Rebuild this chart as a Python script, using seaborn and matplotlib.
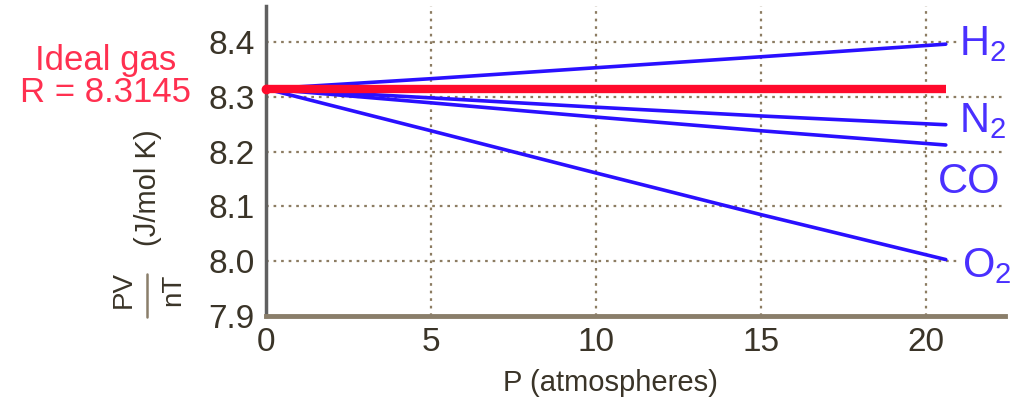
import pandas as pd
import numpy as np
import matplotlib.pyplot as plt
import seaborn as sns
from matplotlib.lines import Line2D

# Values
pressure = [0, 5, 10, 15, 20.6]
h2 = [8.3145, 8.333, 8.353, 8.373, 8.396]
n2 = [8.3145, 8.298, 8.281, 8.265, 8.249]
co = [8.3145, 8.289, 8.263, 8.238, 8.212]
o2 = [8.3145, 8.238, 8.161, 8.085, 8.003]
ideal = [8.3145, 8.3145, 8.3145, 8.3145, 8.3145]
gases = ['H$_2$', 'N$_2$', 'CO', 'O$_2$']
label_pos = [(21.0, 8.376), (21.0, 8.236), (20.35, 8.125), (21.1, 7.971)]

df = pd.DataFrame({
    'P': pressure * 4,
    'value': h2 + n2 + co + o2,
    'gas': [g for g in gases for _ in pressure],
})

sns.set_style('white')
plt.rcParams['font.family'] = ['Liberation Sans', 'DejaVu Sans']
plt.rcParams['mathtext.fontset'] = 'custom'
plt.rcParams['mathtext.rm'] = 'Liberation Sans'
plt.rcParams['mathtext.it'] = 'Liberation Sans'

fig = plt.figure(figsize=(10.21, 3.97), dpi=100)
ax = fig.add_axes([0.2605, 0.204, 0.724, 0.78])

blue = '#2a10ff'
grid_col = '#8c7c62'
txt_col = '#3a3428'

# dotted grid
for yv in [8.0, 8.1, 8.2, 8.3, 8.4]:
    ax.axhline(yv, color=grid_col, lw=1.6, ls=(0, (1.2, 2.2)), zorder=0)
for xv in [5, 10, 15, 20]:
    ax.axvline(xv, color=grid_col, lw=1.6, ls=(0, (1.2, 2.2)), zorder=0)

sns.lineplot(data=df, x='P', y='value', units='gas', estimator=None,
             color=blue, lw=2.6, ax=ax, zorder=3)
ax.plot(pressure, ideal, color='#ff0a2c', lw=6, zorder=4, solid_capstyle='butt')
ax.plot([0], [8.3145], 'o', color='#ff0a2c', ms=6, clip_on=False, zorder=5)

for g, (xp, yp) in zip(gases, label_pos):
    ax.text(xp, yp, g, color='#4a30ff', fontsize=30, va='baseline', ha='left',
            zorder=6, bbox=dict(facecolor='white', edgecolor='none', pad=1))

fig.text(0.103, 0.807, 'Ideal gas\nR = 8.3145', color='#ff3050', fontsize=25,
         ha='center', va='center', linespacing=0.98)

ax.set_xlim(0, 22.4)
ax.set_ylim(7.9, 8.465)
ax.set_xticks([0, 5, 10, 15, 20])
ax.set_yticks([7.9, 8.0, 8.1, 8.2, 8.3, 8.4])
ax.set_yticklabels(['7.9', '8.0', '8.1', '8.2', '8.3', '8.4'])
ax.tick_params(axis='both', direction='in', length=5, width=1.2,
               colors=txt_col, labelsize=24, pad=8)
ax.tick_params(axis='x', pad=8)

for s in ['top', 'right']:
    ax.spines[s].set_visible(False)
ax.spines['left'].set_color('#606060')
ax.spines['left'].set_linewidth(2.5)
ax.spines['bottom'].set_color('#8a7e6a')
ax.spines['bottom'].set_linewidth(3.5)

ax.set_xlabel('P (atmospheres)', fontsize=21, color=txt_col)
ax.xaxis.set_label_coords(0.466, -0.17)
ax.set_ylabel('')

# y label: PV/nT fraction plus units, rotated
fig.text(0.145, 0.526, '(J/mol K)', rotation=90, fontsize=21, color=txt_col,
         ha='center', va='center')
fig.text(0.121, 0.27, 'PV', rotation=90, fontsize=20, color=txt_col,
         ha='center', va='center')
fig.text(0.170, 0.27, 'nT', rotation=90, fontsize=20, color=txt_col,
         ha='center', va='center')
fig.add_artist(Line2D([0.144, 0.144], [0.202, 0.31], color='#8a7e6a', lw=1.8))

fig.savefig('out.png', dpi=100)
